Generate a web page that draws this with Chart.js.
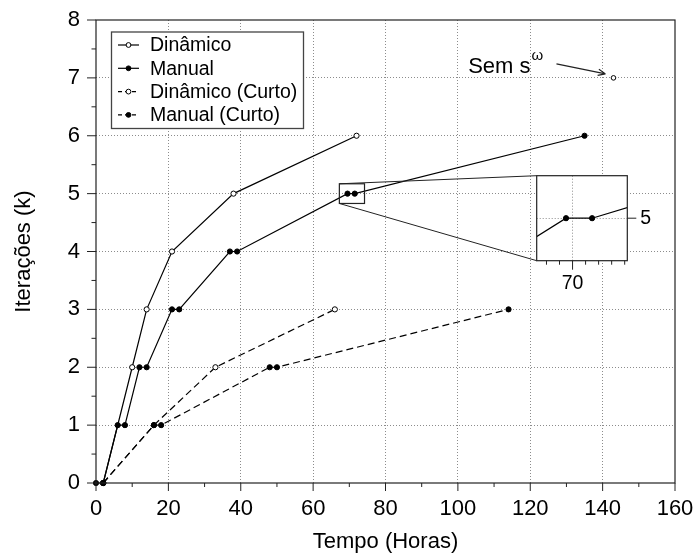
<!DOCTYPE html>
<html><head><meta charset="utf-8">
<script src="https://cdn.jsdelivr.net/npm/chart.js@4.4.0/dist/chart.umd.min.js"></script>
<style>
html,body{margin:0;padding:0;background:#fff;}
#wrap{position:relative;width:694px;height:553px;overflow:hidden;}
#main{position:absolute;left:0;top:0;}
#inset{position:absolute;left:520px;top:160px;}
</style></head><body>
<div id="wrap"><canvas id="main" width="694" height="553"></canvas><canvas id="inset" width="150" height="140"></canvas></div>
<script>
// ---- data ----
const seriesNames = ['Dinâmico', 'Manual', 'Dinâmico (Curto)', 'Manual (Curto)'];
const dinX = [2, 10, 14, 21, 38, 72];
const dinY = [0, 2, 3, 4, 5, 6];
const manX = [0, 2, 6, 8, 12, 14, 21, 23, 37, 39, 69.5, 71.5, 135];
const manY = [0, 0, 1, 1, 2, 2, 3, 3, 4, 4, 5, 5, 6];
const dinCX = [2, 16, 33, 66];
const dinCY = [0, 1, 2, 3];
const manCX = [2, 16, 18, 48, 50, 114];
const manCY = [0, 1, 1, 2, 2, 3];
const semX = [143];
const semY = [7];
const annotationText = 'Sem s';
const annotationSup = 'ω';
const xTicks = [0, 20, 40, 60, 80, 100, 120, 140, 160];
const xMinor = [10, 30, 50, 70, 90, 110, 130, 150];
const yTicks = [0, 1, 2, 3, 4, 5, 6, 7, 8];
const yMinor = [0.5, 1.5, 2.5, 3.5, 4.5, 5.5, 6.5, 7.5];
const xTitle = 'Tempo (Horas)';
const yTitle = 'Iterações (k)';
const zoomX = [67.25, 74.2];
const zoomY = [4.83, 5.17];
const insetXTicks = [70];
const insetXMinor = [68, 69, 71, 72, 73, 74];
const insetYTicks = [5];

// ---- layout / style ----
const FONT = "'Liberation Sans', Arial, Helvetica, sans-serif";
Chart.defaults.font.family = FONT;
Chart.defaults.color = '#000';
const INSET_LEFT = 520, INSET_TOP = 160, INSET_W = 150, INSET_H = 140;
const GRID = '#8c8c8c';

const pts = (xs, ys) => xs.map((v, i) => ({x: v, y: ys[i]}));
function mk(label, xs, ys, filled, dashed, order, r) {
  return {
    label, data: pts(xs, ys), order,
    borderColor: '#000', borderWidth: 1.2, borderDash: dashed ? [7, 4] : [],
    pointRadius: r || 2.6, pointBorderWidth: 1, pointBorderColor: '#000',
    pointBackgroundColor: filled ? '#000' : '#fff',
    showLine: true, fill: false, tension: 0, clip: false
  };
}
const noPadX = (h) => (s) => { s.height = h; s.paddingLeft = 0; s.paddingRight = 0; };
const noPadY = (w) => (s) => { s.width = w; s.paddingTop = 0; s.paddingBottom = 0; };

// ---- inset chart ----
const insetChart = new Chart(document.getElementById('inset'), {
  type: 'scatter',
  data: {datasets: [Object.assign(mk(seriesNames[1], manX, manY, true, false, 0), {clip: undefined})]},
  options: {
    responsive: false, animation: false, devicePixelRatio: 1,
    layout: {padding: {left: 16.7, top: 15.7, right: 0, bottom: 0}},
    plugins: {legend: {display: false}, tooltip: {enabled: false}},
    scales: {
      x: {
        type: 'linear', min: zoomX[0], max: zoomX[1],
        afterBuildTicks: s => { s.ticks = insetXTicks.map(v => ({value: v})); },
        afterFit: noPadX(INSET_H - 100.7),
        grid: {color: GRID, drawTicks: false, lineWidth: 1},
        border: {display: false, dash: [1, 2]},
        ticks: {font: {size: 19.5}, padding: 11, maxRotation: 0}
      },
      y: {
        type: 'linear', position: 'right', min: zoomY[0], max: zoomY[1],
        afterBuildTicks: s => { s.ticks = insetYTicks.map(v => ({value: v})); },
        afterFit: noPadY(INSET_W - 107.3),
        grid: {color: GRID, drawTicks: false, lineWidth: 1},
        border: {display: false, dash: [1, 2]},
        ticks: {font: {size: 19.5}, padding: 13}
      }
    }
  },
  plugins: [{
    id: 'insetDecor',
    beforeDraw(chart) {
      const {ctx, chartArea: a} = chart;
      ctx.save(); ctx.fillStyle = '#fff';
      ctx.fillRect(a.left, a.top, a.right - a.left, a.bottom - a.top);
      ctx.restore();
    },
    afterDraw(chart) {
      const {ctx, chartArea: a, scales: {x, y}} = chart;
      ctx.save();
      ctx.strokeStyle = '#222'; ctx.lineWidth = 1.2; ctx.setLineDash([]);
      ctx.strokeRect(a.left, a.top, a.right - a.left, a.bottom - a.top);
      ctx.beginPath(); ctx.lineWidth = 1;
      insetXTicks.forEach(v => { const p = x.getPixelForValue(v); ctx.moveTo(p, a.bottom); ctx.lineTo(p, a.bottom + 9); });
      insetXMinor.forEach(v => { const p = x.getPixelForValue(v); ctx.moveTo(p, a.bottom); ctx.lineTo(p, a.bottom + 4); });
      insetYTicks.forEach(v => { const p = y.getPixelForValue(v); ctx.moveTo(a.right, p); ctx.lineTo(a.right + 9, p); });
      ctx.stroke();
      ctx.restore();
    }
  }]
});

// ---- main chart ----
const mainPlugin = {
  id: 'mainDecor',
  afterDraw(chart) {
    const {ctx, chartArea: a, scales: {x, y}} = chart;
    ctx.save();
    ctx.setLineDash([]);
    ctx.strokeStyle = '#222'; ctx.lineWidth = 1.2;
    ctx.strokeRect(a.left, a.top, a.right - a.left, a.bottom - a.top);
    // ticks
    ctx.beginPath(); ctx.lineWidth = 1;
    xTicks.forEach(v => { const p = x.getPixelForValue(v); ctx.moveTo(p, a.bottom); ctx.lineTo(p, a.bottom + 8); });
    xMinor.forEach(v => { const p = x.getPixelForValue(v); ctx.moveTo(p, a.bottom); ctx.lineTo(p, a.bottom + 4); });
    yTicks.forEach(v => { const p = y.getPixelForValue(v); ctx.moveTo(a.left - 9, p); ctx.lineTo(a.left, p); });
    yMinor.forEach(v => { const p = y.getPixelForValue(v); ctx.moveTo(a.left - 4.5, p); ctx.lineTo(a.left, p); });
    ctx.stroke();
    // zoom box and connectors
    const bx1 = x.getPixelForValue(zoomX[0]), bx2 = x.getPixelForValue(zoomX[1]);
    const by1 = y.getPixelForValue(zoomY[1]), by2 = y.getPixelForValue(zoomY[0]);
    ctx.lineWidth = 1.2;
    ctx.strokeRect(bx1, by1, bx2 - bx1, by2 - by1);
    const ia = insetChart.chartArea;
    ctx.beginPath();
    ctx.moveTo(bx1, by1); ctx.lineTo(INSET_LEFT + ia.left, INSET_TOP + ia.top);
    ctx.moveTo(bx1, by2); ctx.lineTo(INSET_LEFT + ia.left, INSET_TOP + ia.bottom);
    ctx.lineWidth = 1; ctx.stroke();
    // annotation
    const px = x.getPixelForValue(semX[0]), py = y.getPixelForValue(semY[0]);
    ctx.fillStyle = '#000';
    ctx.font = '22px ' + FONT; ctx.textAlign = 'right'; ctx.textBaseline = 'alphabetic';
    ctx.fillText(annotationText, px - 83, py - 5);
    ctx.font = '15px ' + FONT; ctx.textAlign = 'left';
    ctx.fillText(annotationSup, px - 82, py - 18);
    const sx = px - 57, sy = py - 14, ex = px - 8, ey = py - 4;
    ctx.beginPath(); ctx.moveTo(sx, sy); ctx.lineTo(ex, ey);
    const ang = Math.atan2(ey - sy, ex - sx);
    ctx.moveTo(ex, ey); ctx.lineTo(ex - 8 * Math.cos(ang - 0.4), ey - 8 * Math.sin(ang - 0.4));
    ctx.moveTo(ex, ey); ctx.lineTo(ex - 8 * Math.cos(ang + 0.4), ey - 8 * Math.sin(ang + 0.4));
    ctx.lineWidth = 1.2; ctx.stroke();
    // legend
    const L = {x: 111.5, y: 32, w: 192, h: 96.5};
    ctx.fillStyle = '#fff'; ctx.fillRect(L.x, L.y, L.w, L.h);
    ctx.strokeStyle = '#444'; ctx.lineWidth = 1.3; ctx.strokeRect(L.x, L.y, L.w, L.h);
    const styles = [[false, false], [true, false], [false, true], [true, true]];
    ctx.font = '19.5px ' + FONT; ctx.textAlign = 'left'; ctx.textBaseline = 'middle';
    seriesNames.forEach((name, i) => {
      const ry = 45 + i * 23.3;
      ctx.strokeStyle = '#000'; ctx.lineWidth = 1.2;
      ctx.setLineDash(styles[i][1] ? [4, 3] : []);
      ctx.beginPath(); ctx.moveTo(118, ry); ctx.lineTo(139, ry); ctx.stroke();
      ctx.setLineDash([]);
      ctx.beginPath(); ctx.arc(128.5, ry, 2.4, 0, Math.PI * 2);
      ctx.fillStyle = styles[i][0] ? '#000' : '#fff'; ctx.fill();
      ctx.lineWidth = 1; ctx.stroke();
      ctx.fillStyle = '#000';
      ctx.fillText(name, 150, ry + 1);
    });
    ctx.restore();
  }
};

const gridColor = (edge) => (c) => (c.tick && edge.includes(c.tick.value)) ? 'rgba(0,0,0,0)' : GRID;

new Chart(document.getElementById('main'), {
  type: 'scatter',
  data: {datasets: [
    mk(seriesNames[0], dinX, dinY, false, false, 2),
    mk(seriesNames[1], manX, manY, true, false, 0),
    mk(seriesNames[2], dinCX, dinCY, false, true, 3),
    mk(seriesNames[3], manCX, manCY, true, true, 1),
    Object.assign(mk('Sem s', semX, semY, false, false, 4, 2.3), {showLine: false})
  ]},
  options: {
    responsive: false, animation: false, devicePixelRatio: 1,
    layout: {padding: {left: 0, top: 20, right: 19, bottom: 0}},
    plugins: {legend: {display: false}, tooltip: {enabled: false}},
    scales: {
      x: {
        type: 'linear', min: 0, max: 160,
        afterBuildTicks: s => { s.ticks = xTicks.map(v => ({value: v})); },
        afterFit: noPadX(70),
        grid: {color: gridColor([0, 160]), drawTicks: false, lineWidth: 1},
        border: {display: false, dash: [1, 2]},
        ticks: {font: {size: 22}, padding: 13, maxRotation: 0},
        title: {display: true, text: xTitle, font: {size: 22, lineHeight: 1}, padding: {top: 0, bottom: 0}}
      },
      y: {
        type: 'linear', min: 0, max: 8,
        afterBuildTicks: s => { s.ticks = yTicks.map(v => ({value: v})); },
        afterFit: noPadY(96),
        grid: {color: gridColor([0, 8]), drawTicks: false, lineWidth: 1},
        border: {display: false, dash: [1, 2]},
        ticks: {font: {size: 22}, padding: 16},
        title: {display: true, text: yTitle, font: {size: 22, lineHeight: 1}, padding: {top: 12.5, bottom: 0}}
      }
    }
  },
  plugins: [mainPlugin]
});
</script>
</body></html>
